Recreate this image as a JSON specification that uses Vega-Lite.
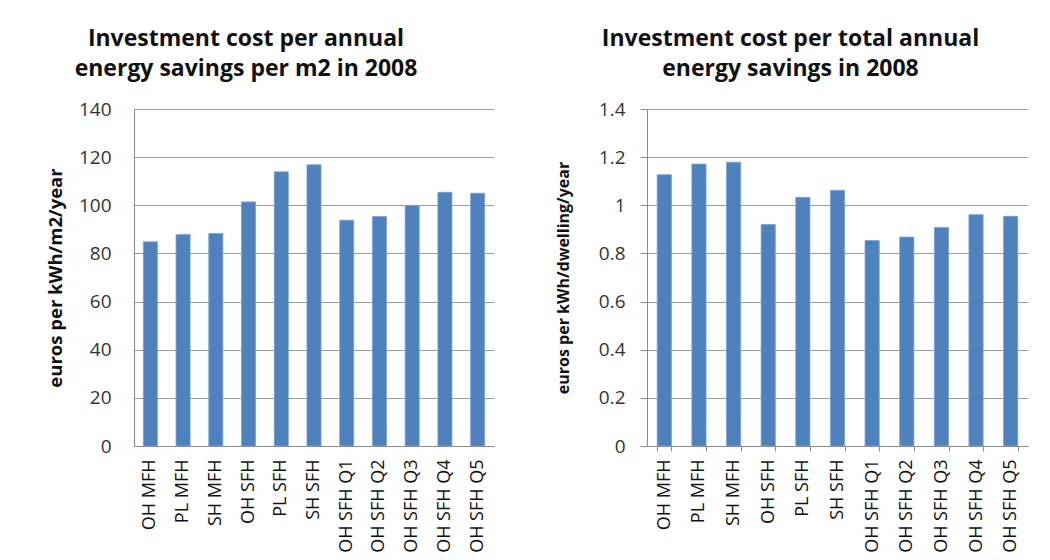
{
  "$schema": "https://vega.github.io/schema/vega-lite/v6.json",
  "background": "white",
  "padding": {"left": 46, "top": 28, "right": 5, "bottom": 0},
  "spacing": 61,
  "datasets": {
    "perM2": [
      {"type": "OH MFH", "value": 84.8},
      {"type": "PL MFH", "value": 87.9},
      {"type": "SH MFH", "value": 88.3},
      {"type": "OH SFH", "value": 101.4},
      {"type": "PL SFH", "value": 113.9},
      {"type": "SH SFH", "value": 116.8},
      {"type": "OH SFH Q1", "value": 93.8},
      {"type": "OH SFH Q2", "value": 95.3},
      {"type": "OH SFH Q3", "value": 99.9},
      {"type": "OH SFH Q4", "value": 105.4},
      {"type": "OH SFH Q5", "value": 105.0}
    ],
    "total": [
      {"type": "OH MFH", "value": 1.127},
      {"type": "PL MFH", "value": 1.171},
      {"type": "SH MFH", "value": 1.179},
      {"type": "OH SFH", "value": 0.920},
      {"type": "PL SFH", "value": 1.033},
      {"type": "SH SFH", "value": 1.062},
      {"type": "OH SFH Q1", "value": 0.854},
      {"type": "OH SFH Q2", "value": 0.868},
      {"type": "OH SFH Q3", "value": 0.908},
      {"type": "OH SFH Q4", "value": 0.961},
      {"type": "OH SFH Q5", "value": 0.954}
    ]
  },
  "config": {
    "font": "Open Sans",
    "view": {"stroke": null},
    "axis": {
      "labelFont": "Open Sans",
      "titleFont": "Open Sans",
      "labelColor": "#333333",
      "titleColor": "#111111",
      "gridColor": "#9a9a9a",
      "domainColor": "#8c8c8c",
      "tickColor": "#8c8c8c"
    },
    "title": {"font": "Open Sans", "fontSize": 23, "fontWeight": "bold", "lineHeight": 30, "color": "#111111"}
  },
  "hconcat": [
    {
      "width": 360,
      "height": 337,
      "title": {"text": ["Investment cost per annual", "energy savings per m2 in 2008"], "dx": -68, "offset": 19},
      "data": {"name": "perM2"},
      "mark": {"type": "bar", "color": "#4F81BD", "stroke": "#7aa0d4", "strokeWidth": 0.8},
      "encoding": {
        "x": {
          "field": "type", "type": "nominal", "sort": null,
          "scale": {"paddingInner": 0.57, "paddingOuter": 0.285},
          "axis": {"title": null, "labelAngle": -90, "labelFontSize": 18, "ticks": false, "labelPadding": 13, "labelColor": "#111111"}
        },
        "y": {
          "field": "value", "type": "quantitative",
          "scale": {"domain": [0, 140]},
          "axis": {
            "values": [0, 20, 40, 60, 80, 100, 120, 140],
            "title": "euros per kWh/m2/year", "titleFontSize": 18.5, "titleFontWeight": "bold", "titlePadding": 13,
            "labelFontSize": 19, "labelPadding": 23, "ticks": false, "domain": true
          }
        }
      }
    },
    {
      "width": 381,
      "height": 337,
      "title": {"text": ["Investment cost per total annual", "energy savings in 2008"], "dx": -47, "offset": 19},
      "data": {"name": "total"},
      "mark": {"type": "bar", "color": "#4F81BD", "stroke": "#7aa0d4", "strokeWidth": 0.8},
      "encoding": {
        "x": {
          "field": "type", "type": "nominal", "sort": null,
          "scale": {"paddingInner": 0.59, "paddingOuter": 0.295},
          "axis": {"title": null, "labelAngle": -90, "labelFontSize": 18, "ticks": true, "tickSize": 5, "tickBand": "extent", "labelPadding": 8, "labelColor": "#111111"}
        },
        "y": {
          "field": "value", "type": "quantitative",
          "scale": {"domain": [0, 1.4]},
          "axis": {
            "values": [0, 0.2, 0.4, 0.6, 0.8, 1, 1.2, 1.4], "format": "~g",
            "title": "euros per kWh/dwelling/year", "titleFontSize": 16, "titleFontWeight": "bold", "titlePadding": 27,
            "labelFontSize": 19, "labelPadding": 15, "ticks": true, "tickSize": 7, "domain": true
          }
        }
      }
    }
  ]
}
